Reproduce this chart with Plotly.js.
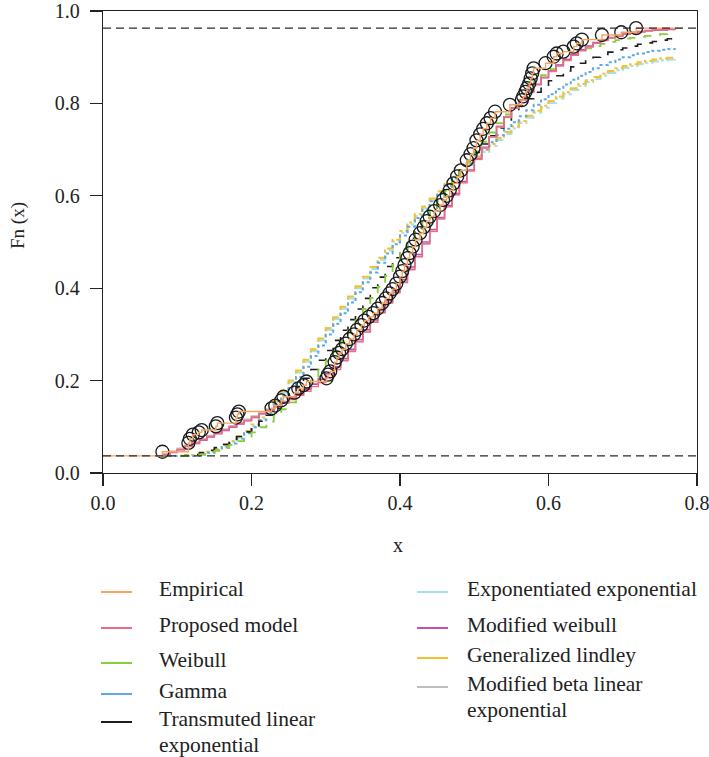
<!DOCTYPE html>
<html>
<head>
<meta charset="utf-8">
<script src="https://cdn.plot.ly/plotly-3.0.1.min.js"></script>
<style>html,body{margin:0;padding:0;background:#fff;}#chart{width:709px;height:757px;}</style>
</head>
<body>
<div id="chart"></div>
<script>
// ---- data ----
const baseline = 0.037;
const topLevel = 0.963;
const xEnd = 0.78;

const empX = [0.080,0.115,0.117,0.121,0.129,0.133,0.152,0.154,0.179,0.181,0.183,0.227,0.232,0.240,0.243,0.258,0.263,0.270,0.274,0.301,0.303,0.306,0.312,0.315,0.318,0.322,0.327,0.332,0.338,0.342,0.348,0.352,0.358,0.364,0.370,0.376,0.381,0.386,0.390,0.395,0.400,0.403,0.406,0.410,0.413,0.417,0.421,0.427,0.432,0.436,0.440,0.446,0.454,0.458,0.463,0.467,0.472,0.477,0.482,0.490,0.495,0.499,0.503,0.508,0.512,0.517,0.522,0.528,0.548,0.564,0.566,0.569,0.571,0.574,0.576,0.578,0.580,0.596,0.607,0.611,0.620,0.634,0.638,0.645,0.672,0.698,0.718];
const empY = [0.046,0.065,0.074,0.083,0.088,0.093,0.101,0.108,0.120,0.127,0.133,0.140,0.146,0.157,0.165,0.174,0.183,0.190,0.198,0.205,0.213,0.220,0.240,0.250,0.260,0.268,0.280,0.290,0.300,0.310,0.320,0.330,0.338,0.346,0.356,0.368,0.378,0.389,0.398,0.410,0.425,0.437,0.450,0.465,0.476,0.490,0.505,0.519,0.532,0.545,0.555,0.567,0.580,0.591,0.600,0.612,0.627,0.642,0.655,0.677,0.690,0.703,0.720,0.733,0.745,0.757,0.768,0.782,0.797,0.807,0.815,0.825,0.833,0.843,0.854,0.865,0.876,0.887,0.901,0.908,0.912,0.923,0.930,0.938,0.948,0.954,0.963];

const modelX = [0.08,0.09,0.10,0.11,0.12,0.13,0.14,0.15,0.16,0.17,0.18,0.19,0.20,0.21,0.22,0.23,0.24,0.25,0.26,0.27,0.28,0.29,0.30,0.31,0.32,0.33,0.34,0.35,0.36,0.37,0.38,0.39,0.40,0.41,0.42,0.43,0.44,0.45,0.46,0.47,0.48,0.49,0.50,0.51,0.52,0.53,0.54,0.55,0.56,0.57,0.58,0.59,0.60,0.61,0.62,0.63,0.64,0.65,0.66,0.67,0.68,0.69,0.70,0.71,0.72,0.73,0.74,0.75,0.76,0.77];

const proposed = [0.040,0.045,0.051,0.058,0.065,0.072,0.079,0.086,0.093,0.100,0.107,0.114,0.121,0.128,0.135,0.143,0.151,0.159,0.168,0.177,0.187,0.196,0.207,0.224,0.243,0.263,0.284,0.305,0.326,0.347,0.368,0.390,0.412,0.440,0.468,0.496,0.523,0.550,0.576,0.602,0.628,0.654,0.679,0.704,0.728,0.750,0.771,0.790,0.808,0.825,0.841,0.856,0.869,0.881,0.893,0.904,0.914,0.922,0.930,0.936,0.942,0.946,0.950,0.953,0.955,0.957,0.959,0.960,0.961,0.962];
const weibull = [0.037,0.037,0.037,0.037,0.038,0.040,0.043,0.048,0.054,0.061,0.069,0.078,0.088,0.099,0.111,0.124,0.138,0.153,0.169,0.186,0.204,0.223,0.243,0.264,0.286,0.308,0.331,0.355,0.379,0.403,0.427,0.451,0.475,0.498,0.521,0.544,0.566,0.588,0.610,0.632,0.654,0.675,0.696,0.717,0.737,0.757,0.776,0.794,0.812,0.829,0.846,0.861,0.874,0.886,0.896,0.905,0.913,0.919,0.924,0.929,0.933,0.937,0.940,0.942,0.944,0.946,0.948,0.950,0.951,0.952];
const gamma = [0.037,0.037,0.037,0.037,0.037,0.040,0.044,0.049,0.056,0.064,0.074,0.086,0.099,0.114,0.130,0.148,0.167,0.187,0.208,0.230,0.253,0.276,0.300,0.323,0.346,0.369,0.391,0.413,0.434,0.455,0.475,0.495,0.514,0.533,0.552,0.570,0.588,0.605,0.622,0.638,0.654,0.670,0.686,0.701,0.716,0.731,0.745,0.759,0.772,0.785,0.797,0.809,0.820,0.831,0.841,0.851,0.860,0.868,0.876,0.883,0.889,0.895,0.900,0.904,0.908,0.911,0.914,0.916,0.918,0.920];
const transmutedLE = [0.037,0.037,0.037,0.038,0.040,0.044,0.049,0.055,0.062,0.070,0.079,0.089,0.100,0.112,0.125,0.139,0.154,0.170,0.187,0.205,0.224,0.244,0.265,0.287,0.309,0.332,0.355,0.378,0.401,0.424,0.447,0.466,0.485,0.508,0.530,0.552,0.574,0.595,0.616,0.636,0.656,0.675,0.694,0.712,0.730,0.747,0.764,0.780,0.795,0.810,0.824,0.837,0.849,0.860,0.870,0.879,0.887,0.894,0.900,0.906,0.911,0.916,0.920,0.924,0.928,0.931,0.934,0.937,0.940,0.942];
const expExp = [0.037,0.037,0.037,0.037,0.038,0.041,0.045,0.050,0.058,0.067,0.077,0.089,0.102,0.117,0.134,0.153,0.174,0.196,0.218,0.241,0.264,0.287,0.310,0.333,0.356,0.378,0.400,0.421,0.442,0.462,0.482,0.501,0.520,0.538,0.556,0.573,0.590,0.606,0.622,0.637,0.652,0.667,0.681,0.695,0.708,0.721,0.734,0.746,0.758,0.769,0.780,0.791,0.801,0.811,0.820,0.829,0.838,0.846,0.853,0.860,0.866,0.872,0.877,0.881,0.885,0.888,0.891,0.893,0.895,0.896];
const modWeibull = [0.039,0.044,0.050,0.057,0.064,0.071,0.078,0.085,0.092,0.099,0.106,0.113,0.120,0.128,0.136,0.144,0.153,0.162,0.171,0.181,0.192,0.203,0.215,0.230,0.248,0.268,0.289,0.310,0.331,0.352,0.374,0.396,0.419,0.446,0.473,0.500,0.527,0.553,0.579,0.605,0.631,0.656,0.681,0.705,0.728,0.750,0.771,0.790,0.808,0.825,0.841,0.856,0.870,0.883,0.895,0.906,0.916,0.924,0.931,0.937,0.942,0.946,0.950,0.953,0.955,0.957,0.958,0.959,0.960,0.961];
const genLindley = [0.037,0.037,0.037,0.038,0.039,0.042,0.046,0.052,0.060,0.069,0.079,0.091,0.105,0.120,0.137,0.156,0.178,0.200,0.222,0.245,0.268,0.291,0.314,0.337,0.360,0.382,0.404,0.425,0.446,0.466,0.486,0.505,0.524,0.542,0.560,0.577,0.594,0.610,0.626,0.641,0.656,0.671,0.685,0.699,0.712,0.725,0.738,0.750,0.762,0.773,0.784,0.795,0.805,0.815,0.824,0.833,0.842,0.850,0.857,0.864,0.870,0.876,0.881,0.885,0.889,0.892,0.895,0.897,0.899,0.900];
const modBetaLE = [0.041,0.047,0.053,0.060,0.067,0.074,0.081,0.088,0.095,0.102,0.109,0.116,0.123,0.130,0.138,0.146,0.155,0.164,0.173,0.183,0.193,0.204,0.215,0.229,0.246,0.265,0.285,0.306,0.327,0.348,0.370,0.392,0.415,0.442,0.469,0.496,0.523,0.550,0.577,0.603,0.629,0.654,0.679,0.703,0.727,0.749,0.770,0.790,0.808,0.825,0.841,0.856,0.870,0.883,0.895,0.906,0.916,0.925,0.932,0.938,0.943,0.947,0.951,0.954,0.956,0.958,0.959,0.960,0.961,0.962];

const seriesNames = ["Empirical","Proposed model","Weibull","Gamma","Transmuted linear<br>exponential","Exponentiated exponential","Modified weibull","Generalized lindley","Modified beta linear<br>exponential"];
const xTickVals = [0,0.2,0.4,0.6,0.8];
const xTickText = ["0.0","0.2","0.4","0.6","0.8"];
const yTickVals = [0,0.2,0.4,0.6,0.8,1.0];
const yTickText = ["0.0","0.2","0.4","0.6","0.8","1.0"];

// ---- styles ----
const colors = {
  emp:"#F6A55F", prop:"#EE6C82", weib:"#86CE3A", gam:"#5EA8E4", tle:"#1e1e1e",
  ee:"#A6E1EA", mw:"#C450AE", gl:"#F2C230", mble:"#BEBEBE"
};
const serif = "Liberation Serif, Times New Roman, serif";

function modelTrace(y, color, dash, width){
  return {x: modelX, y: y, type:"scatter", mode:"lines", line:{color:color, dash:dash, width:width, shape:"hv"}, hoverinfo:"skip", showlegend:false};
}

const traces = [
  modelTrace(expExp, colors.ee, "dashdot", 2.2),
  modelTrace(genLindley, colors.gl, "dashdot", 2.0),
  modelTrace(gamma, colors.gam, "dot", 2.0),
  modelTrace(transmutedLE, colors.tle, "dash", 1.6),
  modelTrace(weibull, colors.weib, "dash", 1.8),
  modelTrace(modBetaLE, colors.mble, "solid", 1.8),
  modelTrace(modWeibull, colors.mw, "solid", 1.4),
  modelTrace(proposed, colors.prop, "solid", 1.4),
  {x: empX, y: empY, type:"scatter", mode:"markers", marker:{symbol:"circle-open", size:13, color:"#1a1a1a", line:{width:1.3, color:"#1a1a1a"}}, hoverinfo:"skip", showlegend:false},
  {x: [0].concat(empX, [xEnd]), y: [baseline].concat(empY, [topLevel]), type:"scatter", mode:"lines", line:{color:colors.emp, width:1.4, shape:"hv"}, hoverinfo:"skip", showlegend:false}
];

// ---- layout helpers (pixel -> paper) ----
const L = 103, R = 697, T = 11, B = 473;
const px = v => (v - L) / (R - L);
const py = v => (B - v) / (B - T);

const legendItems = [
  {name: seriesNames[0], color: colors.emp, col: 0, y: 589},
  {name: seriesNames[1], color: colors.prop, col: 0, y: 625},
  {name: seriesNames[2], color: colors.weib, col: 0, y: 660},
  {name: seriesNames[3], color: colors.gam, col: 0, y: 691},
  {name: seriesNames[4], color: colors.tle, col: 0, y: 719},
  {name: seriesNames[5], color: colors.ee, col: 1, y: 589},
  {name: seriesNames[6], color: colors.mw, col: 1, y: 625},
  {name: seriesNames[7], color: colors.gl, col: 1, y: 655},
  {name: seriesNames[8], color: colors.mble, col: 1, y: 684}
];
const colLine = [[101,132],[417,448]];
const colText = [157, 465];
const lineGap = 26;

const shapes = [
  {type:"line", xref:"paper", yref:"y", x0:0, x1:1, y0:baseline, y1:baseline, line:{color:"#2a2a2a", width:1.4, dash:"8px,5px"}},
  {type:"line", xref:"paper", yref:"y", x0:0, x1:1, y0:topLevel, y1:topLevel, line:{color:"#2a2a2a", width:1.4, dash:"8px,5px"}}
];
const annotations = [
  {text:"x", xref:"paper", yref:"paper", x:px(398), y:py(545), showarrow:false, xanchor:"center", yanchor:"middle", font:{family:serif, size:20, color:"#222"}},
  {text:"Fn (x)", xref:"paper", yref:"paper", x:px(18), y:py(226), showarrow:false, textangle:-90, xanchor:"center", yanchor:"middle", font:{family:serif, size:19, color:"#222"}}
];
legendItems.forEach(it => {
  const ly = it.y + 3;
  shapes.push({type:"line", xref:"paper", yref:"paper", x0:px(colLine[it.col][0]), x1:px(colLine[it.col][1]), y0:py(ly), y1:py(ly), line:{color:it.color, width:2}});
  it.name.split("<br>").forEach((part, k) => {
    annotations.push({text:part, xref:"paper", yref:"paper", x:px(colText[it.col]), y:py(it.y + k * lineGap), showarrow:false, xanchor:"left", yanchor:"middle", align:"left", font:{family:serif, size:21.5, color:"#222"}});
  });
});

const axisCommon = {
  showgrid:false, zeroline:false, showline:true, mirror:true, linecolor:"#222", linewidth:1.3,
  ticks:"outside", ticklen:12, tickwidth:1.3, tickcolor:"#222", ticklabeloverflow:"allow",
  tickfont:{family:serif, size:20, color:"#222"}, fixedrange:true
};
const layout = {
  width:709, height:757,
  margin:{l:L, r:709-R, t:T, b:757-B, pad:0},
  paper_bgcolor:"#fff", plot_bgcolor:"#fff",
  showlegend:false,
  xaxis: Object.assign({}, axisCommon, {range:[0,0.8], tickvals:xTickVals, ticktext:xTickText}),
  yaxis: Object.assign({}, axisCommon, {range:[0,1], tickvals:yTickVals, ticktext:yTickText, ticklabelstandoff:6}),
  shapes: shapes,
  annotations: annotations
};
Plotly.newPlot("chart", traces, layout, {displayModeBar:false, staticPlot:true});
</script>
</body>
</html>
